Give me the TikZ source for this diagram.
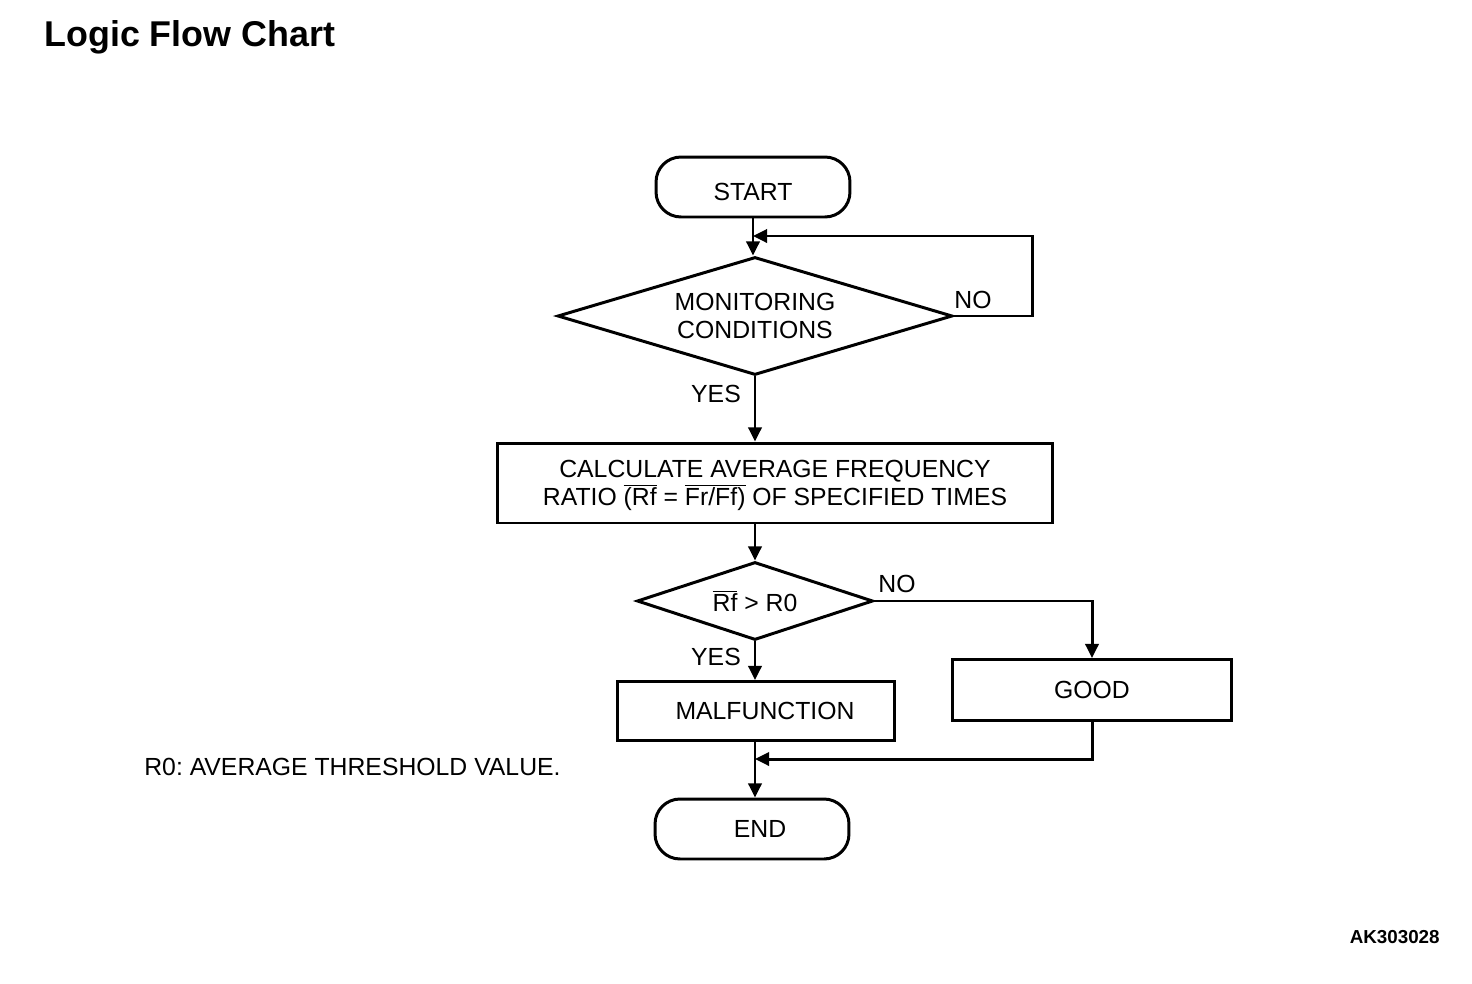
\documentclass[tikz,border=0pt]{standalone}
\usepackage{fontspec}
\setmainfont{Liberation Sans}
\usetikzlibrary{arrows.meta,shapes.geometric}

\newcommand{\ovl}[1]{$\overline{\hbox{#1}}$}
\frenchspacing

\begin{document}
\begin{tikzpicture}[x=0.02cm,y=-0.02cm,
  every node/.style={font=\fontsize{14.1}{16}\selectfont},
  term/.style={draw,line width=1.7pt,rounded corners=0.5cm,minimum width=3.88cm,minimum height=1.2cm},
  box/.style={draw,line width=1.7pt,inner sep=0pt},
  test/.style={draw,diamond,line width=1.7pt,inner sep=0pt},
  arr/.style={line width=1.7pt,-{Triangle[length=8pt,width=7.5pt]}},
  txt/.style={inner sep=0pt}]
\useasboundingbox (0,0) rectangle (1472,984);

% Title and notes
\node[txt,anchor=base west] (title) at (44,46) {\bfseries\fontsize{20.4}{24}\selectfont Logic Flow Chart};
\node[txt,anchor=west] (note) at (144,767) {R0: AVERAGE THRESHOLD VALUE.};
\node[txt,anchor=east] (code) at (1440,937) {\bfseries\fontsize{10.7}{12}\selectfont AK303028};

% Boxes
\node[term] (start) at (753,187) {\rule{0pt}{0.55cm}START};
\node[test,aspect=3.35,minimum width=7.9cm,minimum height=2.36cm,align=center] (mon) at (755,316)
  {\fontsize{14.1}{14.6}\selectfont MONITORING\\CONDITIONS};
\node[box,minimum width=11.12cm,minimum height=1.6cm,align=center] (calc) at (775,483)
  {\fontsize{14.1}{17}\selectfont \rule{0pt}{0.45cm}CALCULATE AVERAGE FREQUENCY\\RATIO \ovl{(Rf} = \ovl{Fr/Ff)} OF SPECIFIED TIMES};
\node[test,aspect=3,minimum width=4.72cm,minimum height=1.56cm] (cmp) at (755,601) {\ovl{Rf} > R0};
\node[box,minimum width=5.56cm,minimum height=1.18cm] (mal) at (756,711) {\hspace{0.36cm}MALFUNCTION};
\node[box,minimum width=5.58cm,minimum height=1.22cm] (good) at (1092,690) {GOOD\hspace{0.12cm}};
\node[term] (end) at (752,829) {\hspace{0.32cm}END};

% Labels
\node (no1) at (973,300) {NO};
\node (yes1) at (716,394) {YES};
\node (no2) at (897,584) {NO};
\node (yes2) at (716,657) {YES};

% Connectors
\coordinate (j1) at (753,236);
\coordinate (loopR) at (1032,236);
\coordinate (j2) at (755,759);
\draw[arr] (start.south) -- (start.south |- mon.north);
\draw[arr] (mon.east) -| (loopR) -- (j1);
\draw[arr] (mon.south) -- (calc.north -| mon.south);
\draw[arr] (calc.south -| cmp.north) -- (cmp.north);
\draw[arr] (cmp.south) -- (cmp.south |- mal.north);
\draw[arr] (cmp.east) -| (good.north);
\draw[arr] (mal.south -| cmp.south) -- (cmp.south |- end.north);
\draw[arr] (good.south) |- (j2);
\end{tikzpicture}
\end{document}
